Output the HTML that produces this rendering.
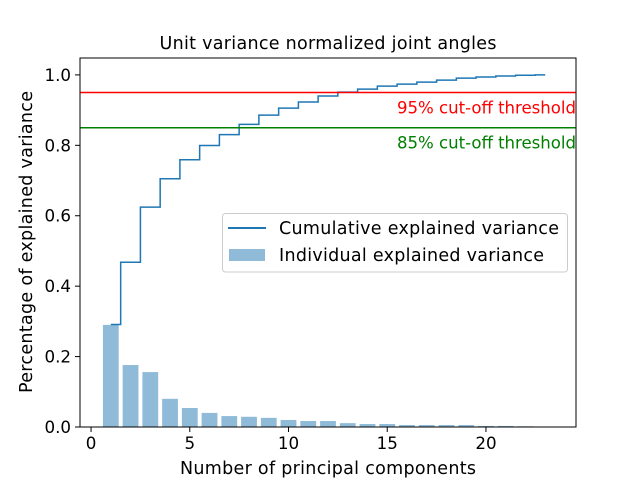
<!DOCTYPE html>
<html><head><meta charset="utf-8"><style>
body{margin:0;background:#fff}
svg text{font-family:"DejaVu Sans","Liberation Sans",sans-serif}
</style></head><body>
<svg id="chart" width="640" height="480" xmlns="http://www.w3.org/2000/svg">
<rect width="640" height="480" fill="#fff"/>
<text x="328" y="49" font-size="17.5" text-anchor="middle" textLength="337">Unit variance normalized joint angles</text>
<g id="bars"></g>
<g id="lines"></g>
<g id="axes"></g>
<text x="328" y="474" font-size="17.5" text-anchor="middle" textLength="296">Number of principal components</text>
<text transform="translate(32,242) rotate(-90)" font-size="17.5" text-anchor="middle" textLength="302">Percentage of explained variance</text>
<g>
<rect x="222.5" y="213.5" width="345" height="58.5" rx="3" fill="#fff" fill-opacity="0.8" stroke="#ccc"/>
<line x1="228" y1="228" x2="266" y2="228" stroke="#1f77b4" stroke-width="2"/>
<text x="279" y="234" font-size="17.5" textLength="280">Cumulative explained variance</text>
<rect x="229" y="249" width="36" height="12" fill="#1f77b4" fill-opacity="0.5"/>
<text x="279" y="261" font-size="17.5" textLength="265">Individual explained variance</text>
</g>
</svg>
<script>
const components=[1,2,3,4,5,6,7,8,9,10,11,12,13,14,15,16,17,18,19,20,21,22,23];
const individual=[0.290,0.176,0.156,0.080,0.054,0.040,0.031,0.029,0.026,0.020,0.017,0.017,0.011,0.0085,0.0085,0.0057,0.0057,0.0057,0.0057,0.003,0.003,0.002,0.001];
const thresholds=[0.95,0.85];
const thresholdLabels=["95% cut-off threshold","85% cut-off threshold"];
const thresholdColors=["red","green"];
const xTicks=[0,5,10,15,20];
const yTicks=[0,0.2,0.4,0.6,0.8,1.0];
const L=80,R=576,T=58,B=427;
const x0=-0.56,x1=24.56,y0=0,y1=1.048;
const X=v=>L+(v-x0)/(x1-x0)*(R-L);
const Y=v=>B-(v-y0)/(y1-y0)*(B-T);
const NS="http://www.w3.org/2000/svg";
function mk(t,a,p){const e=document.createElementNS(NS,t);for(const k in a)e.setAttribute(k,a[k]);p.appendChild(e);return e;}
const bars=document.getElementById('bars'),lines=document.getElementById('lines'),axes=document.getElementById('axes');
components.forEach((c,i)=>{
 const r=mk('rect',{x:X(c-0.4),y:Y(individual[i]),width:X(c+0.4)-X(c-0.4),height:Y(0)-Y(individual[i]),fill:'#1f77b4','fill-opacity':0.5},bars);
 
 
});
const total=individual.reduce((a,b)=>a+b,0);
let s=0;const cum=individual.map(v=>(s+=v)/total);
let d='';
components.forEach((c,i)=>{
 const xs=i===0?c:c-0.5, xe=i===components.length-1?c:c+0.5;
 d+=(i===0?'M':'L')+X(xs)+','+Y(cum[i])+'L'+X(xe)+','+Y(cum[i]);
});
const cp=mk('path',{d:d,fill:'none',stroke:'#1f77b4','stroke-width':1.5},lines);


thresholds.forEach((t,i)=>{
 const l=mk('line',{x1:L,x2:R,y1:Y(t),y2:Y(t),stroke:thresholdColors[i],'stroke-width':1.5},lines);
 
 
 const tx=mk('text',{x:R,y:Y(t)+21,'text-anchor':'end','font-size':16.6,textLength:179,fill:thresholdColors[i]},lines);
 tx.textContent=thresholdLabels[i];
 
 
});
const fr=mk('rect',{x:L,y:T,width:R-L,height:B-T,fill:'none',stroke:'#000','stroke-width':1},axes);


xTicks.forEach(v=>{
 const tk=mk('line',{x1:X(v),x2:X(v),y1:B,y2:B+5,stroke:'#000'},axes);
 
 
 const t=mk('text',{x:X(v),y:B+22,'text-anchor':'middle','font-size':16.7},axes);
 t.textContent=v;
 
 
});
yTicks.forEach(v=>{
 const tk=mk('line',{x1:L-5,x2:L,y1:Y(v),y2:Y(v),stroke:'#000'},axes);
 
 
 const t=mk('text',{x:L-9,y:Y(v)+6,'text-anchor':'end','font-size':16.7},axes);
 t.textContent=v.toFixed(1);
 
 
});
</script>
</body></html>
